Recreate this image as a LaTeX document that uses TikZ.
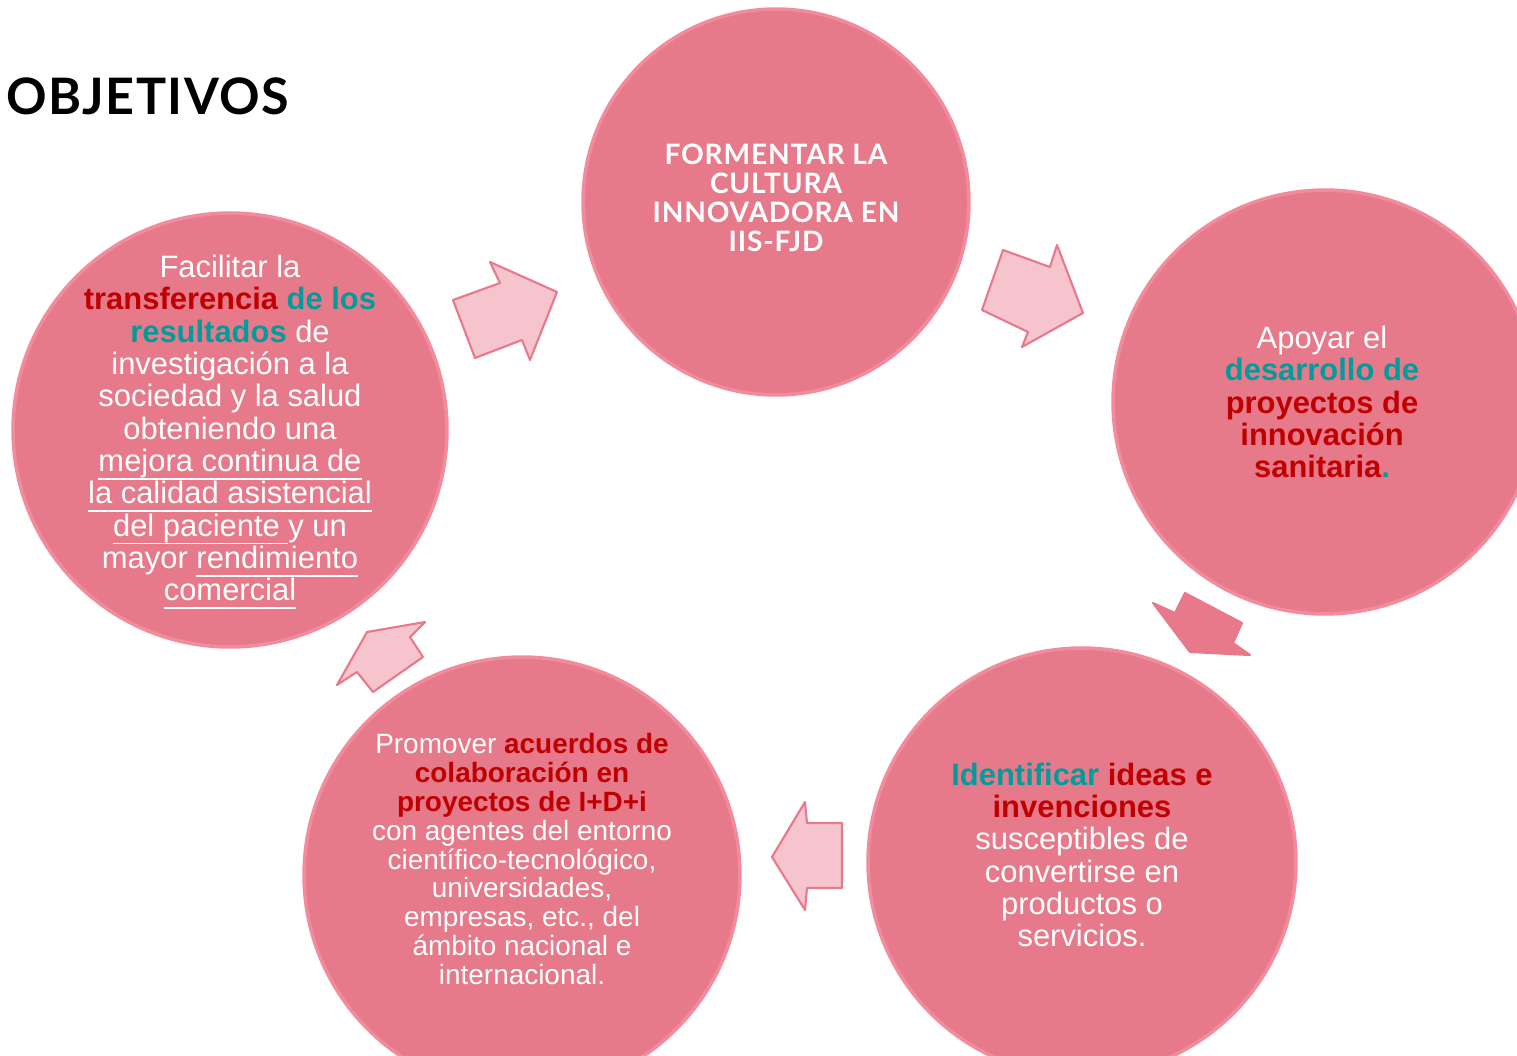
\documentclass[tikz,border=0pt]{standalone}
\usepackage{fontspec}
\setmainfont{Liberation Sans}
\newfontfamily\titlefont[LetterSpace=3]{Lato}

\definecolor{petalfill}{HTML}{E77A8A}
\definecolor{petalrim}{HTML}{F28C9C}
\definecolor{arrowfill}{HTML}{F5C4CD}
\definecolor{arrowrim}{HTML}{E8798A}
\definecolor{redtxt}{HTML}{C00000}
\definecolor{tealtxt}{HTML}{009C9C}

\newcommand{\rd}[1]{{\bfseries\color{redtxt}#1}}
\newcommand{\tl}[1]{{\bfseries\color{tealtxt}#1}}
\newcommand{\undl}[1]{\setbox0\hbox{#1}\rlap{\rule[-4.6pt]{\wd0}{0.9pt}}\box0}

\begin{document}
\begin{tikzpicture}[x=0.02cm,y=-0.02cm,
	petal/.style={circle,fill=petalfill,draw=petalrim,line width=2pt,inner sep=0pt},
	arrowbox/.style={fill=arrowfill,draw=arrowrim,line width=1.2pt,line join=round},
	txt/.style={text=white,align=center,inner sep=0pt,font=\fontsize{17.6}{18.4}\selectfont}]
	\useasboundingbox (0,0) rectangle (1517,1055);
	\clip (0,0) rectangle (1517,1055);

	\node[anchor=west] (title) at (0,96) {\titlefont\bfseries\fontsize{28.6}{32}\selectfont OBJETIVOS};

	\node[petal,minimum size=7.72cm] (c1) at (776,202) {};
	\node[petal,minimum size=8.48cm] (c2) at (1325,402) {};
	\node[petal,minimum size=8.56cm] (c3) at (1082,862) {};
	\node[petal,minimum size=8.72cm] (c4) at (522,875) {};
	\node[petal,minimum size=8.68cm] (c5) at (230,430) {};

	\node[txt,font=\titlefont\bfseries\fontsize{16}{16.4}\selectfont] (t1) at (776,198) {FORMENTAR LA\\CULTURA\\INNOVADORA EN\\IIS-FJD};
	\node[txt] (t2) at (1322,402) {Apoyar el\\\tl{desarrollo de}\\\rd{proyectos de}\\\rd{innovación}\\\rd{sanitaria}\tl{.}};
	\node[txt] (t3) at (1082,855) {\tl{Identificar} \rd{ideas e}\\\rd{invenciones}\\susceptibles de\\convertirse en\\productos o\\servicios.};
	\node[txt,font=\fontsize{15.9}{16.5}\selectfont] (t4) at (522,859) {Promover \rd{acuerdos de}\\\rd{colaboración en}\\\rd{proyectos de I+D+i}\\con agentes del entorno\\científico-tecnológico,\\universidades,\\empresas, etc., del\\ámbito nacional e\\internacional.};
	\node[txt] (t5) at (230,432) {Facilitar la\\\rd{transferencia} \tl{de los}\\\tl{resultados} de\\investigación a la\\sociedad y la salud\\obteniendo una\\\undl{mejora continua de}\\\undl{la calidad asistencial}\\\undl{del paciente\ }y un\\mayor \undl{rendimiento}\\\undl{comercial}};

	% block arrows between the circles
	\draw[arrowbox] (453,300) -- (500,283) -- (490,262) -- (557,292) -- (530,360) -- (522,340) -- (475,358) -- cycle;
	\draw[arrowbox] (1003,250) -- (1050,267) -- (1057,245) -- (1083,313) -- (1022,347) -- (1028,332) -- (982,310) -- cycle;
	\draw[arrowbox,fill=arrowrim] (1153,603) -- (1175,613) -- (1185,593) -- (1242,623) -- (1233,643) -- (1250,655) -- (1190,652) -- cycle;
	\draw[arrowbox] (805,802) -- (807,823) -- (842,823) -- (842,888) -- (807,888) -- (805,910) -- (772,857) -- cycle;
	\draw[arrowbox] (425,622) -- (410,637) -- (423,657) -- (373,692) -- (357,672) -- (337,685) -- (367,632) -- cycle;
\end{tikzpicture}
\end{document}
